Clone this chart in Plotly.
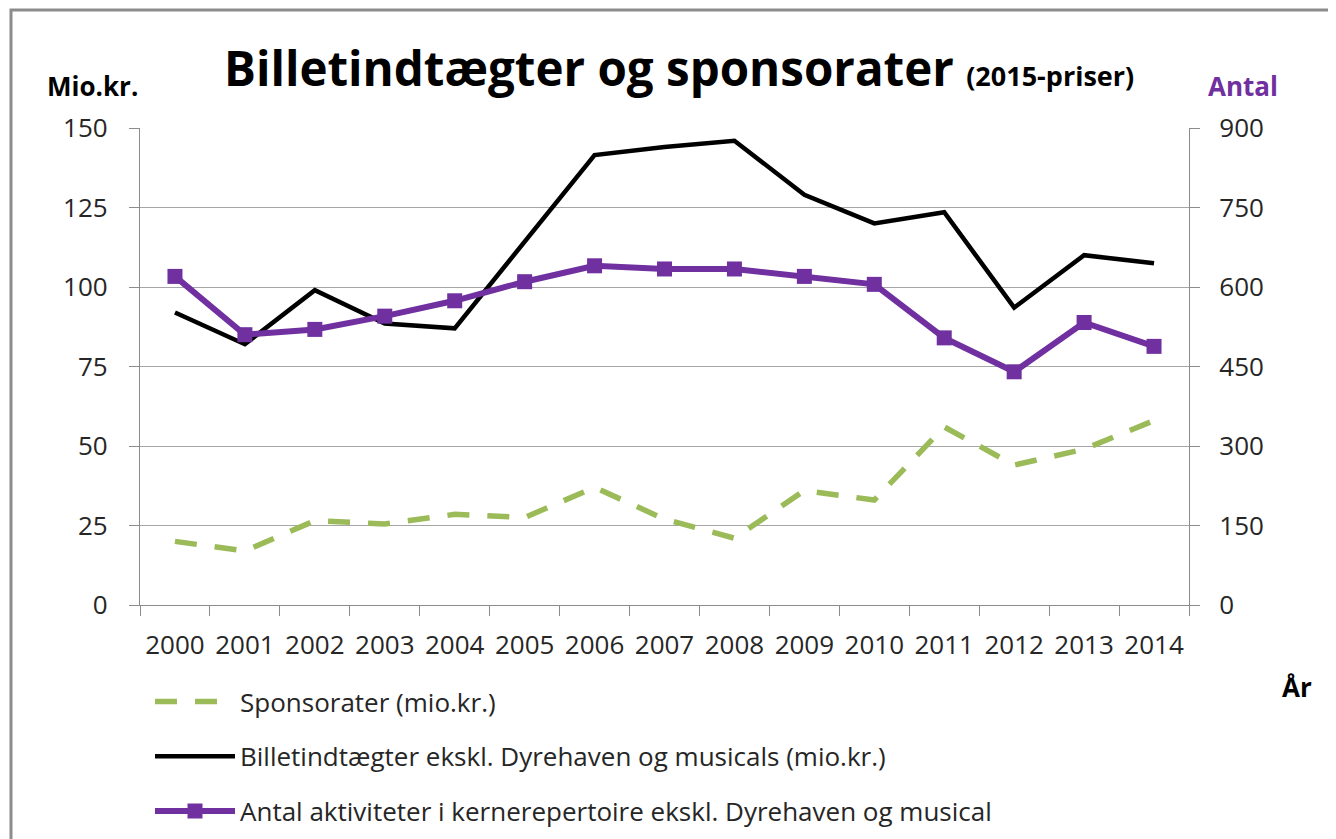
import plotly.graph_objects as go

years = ["2000", "2001", "2002", "2003", "2004", "2005", "2006", "2007",
         "2008", "2009", "2010", "2011", "2012", "2013", "2014"]
sponsorater = [20, 17, 26.5, 25.5, 28.5, 27.5, 37, 27, 21, 36, 33, 56, 44, 49, 58]
billet = [92, 82, 99, 88.5, 87, 114.5, 141.5, 144, 146, 129, 120, 123.5, 93.5, 110, 107.5]
antal = [620, 510, 520, 545, 574, 610, 640, 634, 634, 620, 605, 504, 440, 533, 488]

left_ticks = [0, 25, 50, 75, 100, 125, 150]
right_ticks = [0, 150, 300, 450, 600, 750, 900]

OFF = 8  # default page body margin
W, H = 1336 - OFF, 839 - OFF
# plot area in page pixels
L, R, T, B = 140, 1189, 128, 605
FONT = "Open Sans, DejaVu Sans, sans-serif"
TXT = "#262626"
GRID = "#a6a6a6"
AX = "#8c8c8c"
GREEN = "#9BBB59"
PURPLE = "#7030A0"


def px(x):
    return (x - L) / (R - L)


def py(y):
    return (B - y) / (B - T)


fig = go.Figure()
fig.add_trace(go.Scatter(
    x=years, y=sponsorater, mode="lines", name="Sponsorater (mio.kr.)",
    line=dict(color=GREEN, width=5.5, dash="22px,18px"), legendgroup="a"))
fig.add_trace(go.Scatter(
    x=years, y=billet, mode="lines",
    name="Billetindtægter ekskl. Dyrehaven og musicals (mio.kr.)",
    line=dict(color="#000000", width=4.5), legendgroup="b"))
fig.add_trace(go.Scatter(
    x=years, y=antal, mode="lines+markers", yaxis="y2",
    name="Antal aktiviteter i kernerepertoire ekskl. Dyrehaven og musical",
    line=dict(color=PURPLE, width=6),
    marker=dict(symbol="square", size=15, color=PURPLE), legendgroup="c"))

fig.update_layout(
    width=W, height=H, autosize=False,
    margin=dict(l=L - OFF, r=W - (R - OFF), t=T - OFF, b=H - (B - OFF),
                autoexpand=False),
    paper_bgcolor="white", plot_bgcolor="white",
    font=dict(family=FONT, color=TXT, size=26),
    showlegend=True,
    legend=dict(
        x=px(150), y=py(678), xanchor="left", yanchor="top",
        orientation="v", font=dict(size=26, color=TXT, family=FONT),
        itemwidth=80, tracegroupgap=18, bgcolor="rgba(0,0,0,0)",
        traceorder="grouped"),
    xaxis=dict(
        type="category", range=[-0.5, 14.5], tickson="boundaries",
        ticks="outside", ticklen=10, tickcolor=AX, tickwidth=1.3,
        showline=True, linecolor=AX, linewidth=1.3, showgrid=False,
        tickfont=dict(size=26, color=TXT), ticklabelstandoff=17,
        tickangle=0, zeroline=False),
    yaxis=dict(
        range=[0, 150], tickvals=left_ticks, ticks="outside", ticklen=10,
        tickcolor=AX, tickwidth=1.3, showline=True, linecolor=AX,
        linewidth=1.3, showgrid=True, gridcolor=GRID, gridwidth=1.3,
        zeroline=False, tickfont=dict(size=26, color=TXT),
        ticklabelstandoff=16),
    yaxis2=dict(
        range=[0, 900], tickvals=right_ticks, overlaying="y", side="right",
        ticks="outside", ticklen=10, tickcolor=AX, tickwidth=1.3,
        showline=True, linecolor=AX, linewidth=1.3, showgrid=False,
        zeroline=False, tickfont=dict(size=26, color=TXT),
        ticklabelstandoff=14),
)

annotations = [
    dict(text="<b>Billetindtægter og sponsorater</b> "
              "<span style='font-size:27px'><b>(2015-priser)</b></span>",
         x=px(222), y=py(102), xanchor="left", yanchor="bottom",
         font=dict(size=47.5, color="#000000", family=FONT)),
    dict(text="<b>Mio.kr.</b>", x=px(92), y=py(86), xanchor="center",
         yanchor="middle", font=dict(size=26, color="#000000", family=FONT)),
    dict(text="<b>Antal</b>", x=px(1243), y=py(86), xanchor="center",
         yanchor="middle", font=dict(size=26, color=PURPLE, family=FONT)),
    dict(text="<b>År</b>", x=px(1297), y=py(687), xanchor="center",
         yanchor="middle", font=dict(size=26, color="#000000", family=FONT)),
]
for a in annotations:
    a.update(xref="paper", yref="paper", showarrow=False)
fig.update_layout(annotations=annotations)

fig.add_shape(type="rect", xref="paper", yref="paper",
              x0=px(11), x1=px(1360), y0=py(870), y1=py(10),
              line=dict(color="#8c8c8c", width=3), fillcolor="rgba(0,0,0,0)",
              layer="above")

fig.write_html("out.html")
